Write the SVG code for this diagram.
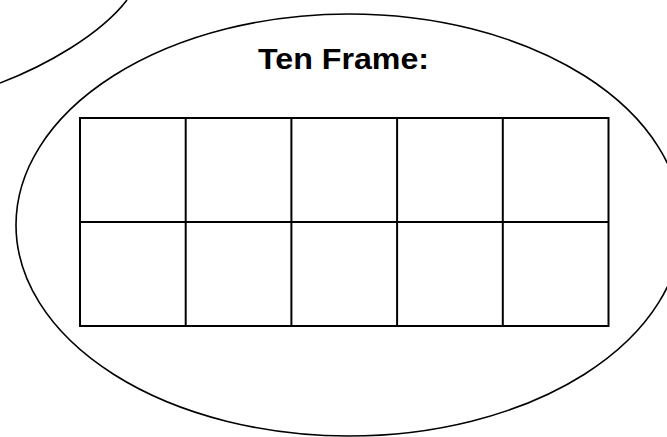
<svg xmlns="http://www.w3.org/2000/svg" width="667" height="437" viewBox="0 0 667 437">
<style>
.curve{fill:none;stroke:#000;stroke-width:1.6}
.grid{fill:none;stroke:#000;stroke-width:2}
.title{font-family:"Liberation Sans",Arial,sans-serif;font-weight:bold;font-size:29px;fill:#000}
</style>
<rect width="667" height="437" fill="#fff"/>
<g id="prev-arc">
<path class="curve" d="M0,83 C45,66 100,35 127,0"/>
</g>
<g id="ellipse">
<ellipse class="curve" cx="349" cy="225" rx="333" ry="211"/>
</g>
<g id="title">
<text class="title" x="258" y="69" textLength="171" lengthAdjust="spacingAndGlyphs">Ten Frame:</text>
</g>
<g id="ten-frame">
<rect class="grid" x="80" y="118" width="528.5" height="208"/>
<line class="grid" x1="80" y1="222" x2="608.5" y2="222"/>
<line class="grid" x1="185.7" y1="118" x2="185.7" y2="326"/>
<line class="grid" x1="291.4" y1="118" x2="291.4" y2="326"/>
<line class="grid" x1="397.1" y1="118" x2="397.1" y2="326"/>
<line class="grid" x1="502.8" y1="118" x2="502.8" y2="326"/>
</g>
</svg>
